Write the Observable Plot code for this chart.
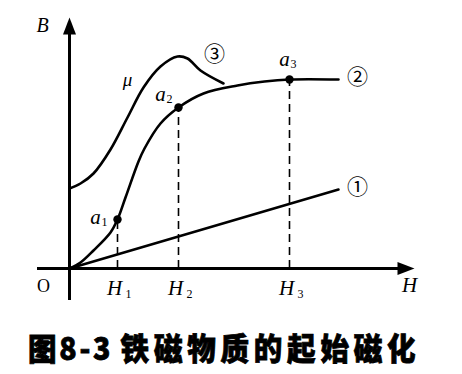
<!DOCTYPE html>
<html>
<head>
<meta charset="utf-8">
<script src="https://cdn.jsdelivr.net/npm/d3@7"></script>
<script src="https://cdn.jsdelivr.net/npm/@observablehq/plot@0.6"></script>
<style>
  html, body { margin: 0; padding: 0; background: #fff; }
  #chart svg { display: block; }
  #caption { height: 56px; line-height: 58px; padding-left: 28px; white-space: nowrap; }
  #caption .inner {
    display: inline-block; transform: scaleX(0.92); transform-origin: left center;
    font-family: "Noto Sans CJK SC", sans-serif; font-weight: 900; font-size: 31px; color: #000;
    -webkit-text-stroke: 0.8px #000;
  }
  #caption .a { letter-spacing: 3px; }
  #caption .b { letter-spacing: 5.2px; margin-left: 8px; }
</style>
</head>
<body>
<div id="chart"></div>
<div id="caption"><span class="inner"><span class="a">图8-3</span><span class="b">铁磁物质的起始磁化</span></span></div>
<script>
// Curve ② : B–H initial magnetization curve
const curve2H = [0, 1.1, 2.4, 4.1, 4.8, 5.6, 6.9, 7.5, 9.1, 10.9, 13.4, 16.8, 19.5, 22, 26.9];
const curve2B = [0, 0.6, 1.8, 3.6, 4.9, 7.1, 10.7, 12.0, 14.5, 16.1, 17.5, 18.3, 18.7, 18.9, 18.9];
// Curve ③ : permeability μ
const muH = [0, 1.1, 2.4, 4.1, 5.8, 7.4, 9.1, 10.8, 11.8, 13.1, 15.4];
const muB = [8.0, 8.5, 9.5, 11.9, 15.1, 18.1, 20.2, 21.2, 21.0, 19.8, 18.5];
// Line ① : non-magnetic (straight line)
const line1H = [0, 26.9];
const line1B = [0, 7.9];
// Marked points a1, a2, a3 and their fields H1, H2, H3
const pointNames = ["a", "a", "a"];
const pointSubs = ["1", "2", "3"];
const pointH = [4.8, 10.9, 22];
const pointB = [4.9, 16.1, 18.9];
const tickNames = ["H", "H", "H"];
// Axis extents
const axisH = [-3.2, 34.5];
const axisB = [-3.2, 25.1];
// Curve labels
const curveLabels = ["①", "②", "③"];
const curveLabelH = [28.8, 28.8, 14.5];
const curveLabelB = [8.1, 19.1, 21.4];

const c2 = curve2H.map((h, i) => ({h, b: curve2B[i]}));
const mu = muH.map((h, i) => ({h, b: muB[i]}));
const l1 = line1H.map((h, i) => ({h, b: line1B[i]}));
const pts = pointH.map((h, i) => ({h, b: pointB[i], name: pointNames[i], sub: pointSubs[i], tick: tickNames[i]}));
const labs = curveLabels.map((t, i) => ({t, h: curveLabelH[i], b: curveLabelB[i]}));

const serif = "Liberation Serif, Times New Roman, serif";

// offsets (pixels) of the a-labels relative to their points
const aOffsets = [[-22, -2], [-18, -13], [-5, -20]];
const aLabelMarks = pts.flatMap((p, i) => [
  Plot.text([p], {x: "h", y: "b", text: "name", dx: aOffsets[i][0], dy: aOffsets[i][1], fontFamily: serif, fontStyle: "italic", fontSize: 21, fill: "black"}),
  Plot.text([p], {x: "h", y: "b", text: "sub", dx: aOffsets[i][0] + 9, dy: aOffsets[i][1] + 5, fontFamily: serif, fontSize: 12, fill: "black"})
]);

const chart = Plot.plot({
  width: 462,
  height: 318,
  margin: 0,
  x: {domain: [-6.9, 39.3], axis: null},
  y: {domain: [-5, 26.8], axis: null},
  marks: [
    // axes
    Plot.ruleY([0], {x1: axisH[0], x2: axisH[1] - 1.2, stroke: "black", strokeWidth: 3}),
    Plot.ruleX([0], {y1: axisB[0], y2: axisB[1] - 1.2, stroke: "black", strokeWidth: 3}),
    Plot.vector([{h: axisH[1], b: 0}], {x: "h", y: "b", rotate: 90, length: 17, r: 6.5, shape: "spike", anchor: "end", fill: "black", stroke: "none"}),
    Plot.vector([{h: 0, b: axisB[1]}], {x: "h", y: "b", rotate: 0, length: 17, r: 6.5, shape: "spike", anchor: "end", fill: "black", stroke: "none"}),
    // dashed guides
    Plot.ruleX(pts, {x: "h", y1: 0, y2: "b", stroke: "black", strokeWidth: 1.6, strokeDasharray: "8,5"}),
    // curves
    Plot.line(l1, {x: "h", y: "b", stroke: "black", strokeWidth: 2.6}),
    Plot.line(c2, {x: "h", y: "b", stroke: "black", strokeWidth: 2.6, curve: "catmull-rom"}),
    Plot.line(mu, {x: "h", y: "b", stroke: "black", strokeWidth: 2.6, curve: "catmull-rom"}),
    Plot.dot(pts, {x: "h", y: "b", r: 4.2, fill: "black", stroke: "none"}),
    // point labels a1 a2 a3
    ...aLabelMarks,
    // tick labels H1 H2 H3
    Plot.text(pts, {x: "h", y: 0, text: "tick", dx: -3, dy: 20, fontFamily: serif, fontStyle: "italic", fontSize: 21, fill: "black"}),
    Plot.text(pts, {x: "h", y: 0, text: "sub", dx: 11, dy: 26, fontFamily: serif, fontSize: 12, fill: "black"}),
    // axis labels
    Plot.text([{h: 0, b: 0}], {x: "h", y: "b", text: () => "O", dx: -26, dy: 18, fontFamily: serif, fontSize: 18, fill: "black"}),
    Plot.text([{h: axisH[1], b: 0}], {x: "h", y: "b", text: () => "H", dx: -5, dy: 17, fontFamily: serif, fontStyle: "italic", fontSize: 21, fill: "black"}),
    Plot.text([{h: 0, b: axisB[1]}], {x: "h", y: "b", text: () => "B", dx: -27, dy: 8, fontFamily: serif, fontStyle: "italic", fontSize: 20, fill: "black"}),
    Plot.text([{h: 5.8, b: 18.9}], {x: "h", y: "b", text: () => "μ", fontFamily: serif, fontStyle: "italic", fontSize: 19, fill: "black"}),
    // curve numbers
    Plot.text(labs, {x: "h", y: "b", text: "t", fontFamily: "Noto Sans CJK SC, DejaVu Sans, sans-serif", fontSize: 21, fill: "black"})
  ]
});
document.getElementById("chart").appendChild(chart);
</script>
</body>
</html>
